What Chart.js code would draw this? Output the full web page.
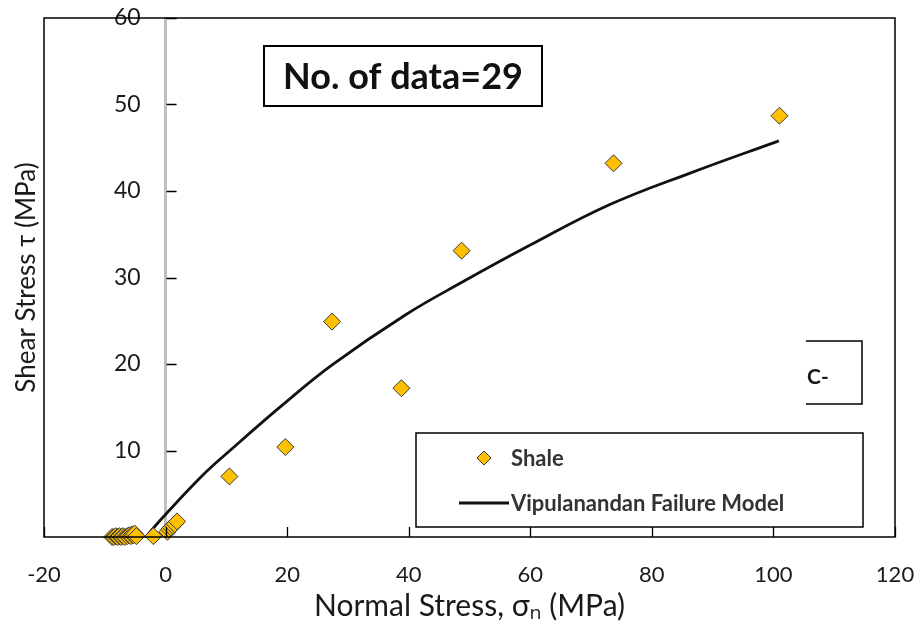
<!DOCTYPE html>
<html>
<head>
<meta charset="utf-8">
<script src="https://cdn.jsdelivr.net/npm/chart.js@4/dist/chart.umd.min.js"></script>
<style>
  html, body { margin: 0; padding: 0; background: #fff; }
  #wrap { width: 917px; height: 628px; }
</style>
</head>
<body>
<div id="wrap"><canvas id="shear-plot" width="917" height="628"></canvas></div>
<script>
// values
const shaleX = [-8.8, -8.5, -8.2, -7.9, -7.6, -7.3, -7.0, -6.7, -6.3, -6.0, -5.7,
                -5.5, -5.3, -5.1, -4.8, -2.0, 0.3, 0.6, 0.9, 1.2, 1.5, 1.9,
                10.5, 19.7, 27.4, 38.8, 48.7, 73.7, 101.0];
const shaleY = [0, 0, 0.1, 0, 0.1, 0, 0.1, 0, 0.1, 0.2, 0.1,
                0.3, 0.2, 0.4, 0.1, 0.1, 0.6, 0.9, 1.1, 1.3, 1.5, 1.8,
                7.0, 10.4, 24.9, 17.2, 33.1, 43.2, 48.7];
const modelX = [-3.0, -0.8, 5.9, 10.6, 19.3, 27.4, 39.5, 48.9, 59.6, 73.0, 86.4, 100.9];
const modelY = [0.2, 2.0, 7.0, 10.0, 15.3, 19.9, 25.7, 29.5, 33.6, 38.4, 42.1, 45.8];
const xTicks = [-20, 0, 20, 40, 60, 80, 100, 120];
const yTicks = [10, 20, 30, 40, 50, 60];
const seriesNames = ['Shale', 'Vipulanandan Failure Model'];
const xTitle = 'Normal Stress, \u03c3\u2099 (MPa)';
const yTitle = 'Shear Stress \u03c4 (MPa)';
const noteText = 'No. of data=29';
const sideText = 'C-';

const FONT = "Lato, 'Open Sans', sans-serif";
const TEXT = '#1a1a1a';
const Y_LABEL_GAP = 25;

const toPoints = (xs, ys) => xs.map((x, i) => ({x: x, y: ys[i]}));

// frame, inward tick marks, note boxes and legend
const decorations = {
    id: 'decorations',
    beforeDraw(chart) {
        // y labels sit a little left of the axis line at x = 0
        const items = chart.scales.y.getLabelItems(chart.chartArea);
        if (!items._shifted) {
            items.forEach(it => { it.options.translation[0] -= Y_LABEL_GAP; });
            items._shifted = true;
        }
    },
    afterDatasetsDraw(chart) {
        const ctx = chart.ctx;
        const a = chart.chartArea;
        const xs = chart.scales.x, ys = chart.scales.y;
        ctx.save();
        ctx.strokeStyle = '#000';
        ctx.lineWidth = 1.5;
        ctx.strokeRect(a.left, a.top, a.right - a.left, a.bottom - a.top);

        ctx.lineWidth = 1.3;
        ctx.beginPath();
        xTicks.forEach(v => {
            const px = Math.round(xs.getPixelForValue(v)) + 0.5;
            ctx.moveTo(px, a.bottom);
            ctx.lineTo(px, a.bottom - 10);
        });
        const x0 = xs.getPixelForValue(0);
        yTicks.forEach(v => {
            const py = Math.round(ys.getPixelForValue(v)) + 0.5;
            ctx.moveTo(x0 + 1, py);
            ctx.lineTo(x0 + 11, py);
        });
        ctx.stroke();

        // note box
        ctx.fillStyle = '#fff';
        ctx.fillRect(264, 46, 278, 60);
        ctx.lineWidth = 2;
        ctx.strokeRect(264, 46, 278, 60);
        ctx.fillStyle = '#111';
        ctx.font = 'bold 36px ' + FONT;
        ctx.textAlign = 'center';
        ctx.textBaseline = 'middle';
        ctx.fillText(noteText, 403, 77);

        // partly hidden box on the right
        ctx.fillStyle = '#fff';
        ctx.fillRect(806, 341, 56, 63);
        ctx.lineWidth = 1.5;
        ctx.beginPath();
        ctx.moveTo(806, 341); ctx.lineTo(862, 341); ctx.lineTo(862, 404); ctx.lineTo(806, 404);
        ctx.stroke();
        ctx.fillStyle = TEXT;
        ctx.font = 'bold 21px ' + FONT;
        ctx.textAlign = 'left';
        ctx.fillText(sideText, 807, 377);

        // legend
        ctx.fillStyle = '#fff';
        ctx.fillRect(416, 433, 447, 94);
        ctx.lineWidth = 1.5;
        ctx.strokeRect(416, 433, 447, 94);
        const sh = chart.data.datasets[0];
        ctx.beginPath();
        ctx.moveTo(477, 458); ctx.lineTo(484, 451); ctx.lineTo(491, 458); ctx.lineTo(484, 465);
        ctx.closePath();
        ctx.fillStyle = sh.backgroundColor;
        ctx.fill();
        ctx.lineWidth = 1;
        ctx.strokeStyle = sh.borderColor;
        ctx.stroke();
        const md = chart.data.datasets[1];
        ctx.beginPath();
        ctx.moveTo(459, 503); ctx.lineTo(509, 503);
        ctx.lineWidth = 3;
        ctx.strokeStyle = md.borderColor;
        ctx.stroke();
        ctx.fillStyle = '#333';
        ctx.font = 'bold 22px ' + FONT;
        ctx.fillText(sh.label, 511, 459);
        ctx.fillText(md.label, 511, 504);
        ctx.restore();
    }
};

function onChartConfig() {
    return {
        type: 'scatter',
        data: {
            datasets: [{
                label: seriesNames[0],
                data: toPoints(shaleX, shaleY),
                pointStyle: 'rectRot',
                pointRadius: 8.5,
                pointHoverRadius: 8.5,
                backgroundColor: '#FFC000',
                borderColor: '#3a3a3a',
                borderWidth: 1,
                clip: false,
                order: 1
            }, {
                label: seriesNames[1],
                data: toPoints(modelX, modelY),
                showLine: true,
                borderColor: '#111',
                borderWidth: 2.8,
                pointRadius: 0,
                tension: 0.4,
                order: 2
            }]
        },
        options: {
            responsive: false,
            animation: false,
            devicePixelRatio: 1,
            layout: { padding: { left: 0, right: 22, top: 18, bottom: 0 } },
            plugins: {
                legend: { display: false },
                tooltip: { enabled: false }
            },
            scales: {
                x: {
                    type: 'linear',
                    position: 'bottom',
                    min: -20, max: 120,
                    afterBuildTicks: s => { s.ticks = xTicks.map(v => ({value: v})); },
                    afterFit: s => { s.height = 91; s.paddingLeft = 0; s.paddingRight = 0; },
                    grid: { display: false },
                    border: { display: false },
                    ticks: { padding: 17, color: TEXT, font: { family: FONT, size: 22 }, maxRotation: 0 },
                    title: {
                        display: true, text: xTitle, color: TEXT,
                        font: { family: FONT, size: 30 },
                        padding: { top: 0, bottom: 4 }
                    }
                },
                y: {
                    type: 'linear',
                    position: { x: 0 },
                    min: 0, max: 60,
                    afterBuildTicks: s => { s.ticks = yTicks.map(v => ({value: v})); },
                    afterFit: s => { s.paddingTop = 0; s.paddingBottom = 0; },
                    grid: { display: false },
                    border: { display: true, color: '#BFBFBF', width: 3 },
                    ticks: { padding: 0, color: TEXT, font: { family: FONT, size: 23 } }
                },
                yTitle: {
                    axis: 'y',
                    type: 'linear',
                    position: 'left',
                    min: 0, max: 60,
                    afterFit: s => { s.width = 44; s.paddingTop = 0; s.paddingBottom = 0; },
                    grid: { display: false },
                    border: { display: false },
                    ticks: { display: false },
                    title: {
                        display: true, text: yTitle, color: TEXT,
                        font: { family: FONT, size: 26 },
                        padding: { top: 11, bottom: 0 }
                    }
                }
            }
        },
        plugins: [decorations]
    };
}

new Chart(document.getElementById('shear-plot'), onChartConfig());
</script>
</body>
</html>
